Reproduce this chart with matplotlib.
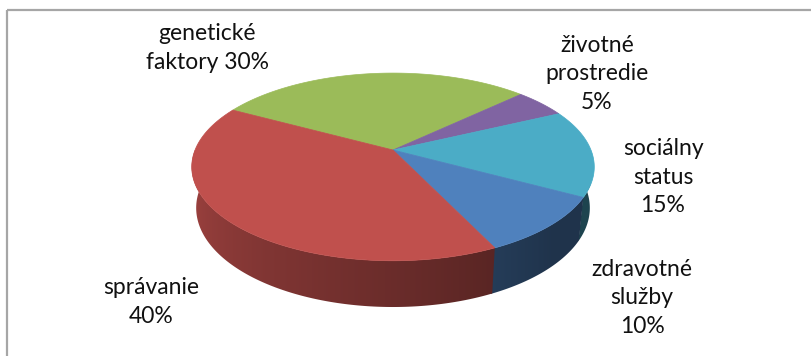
import numpy as np
import matplotlib
matplotlib.use("Agg")
from matplotlib import pyplot as plt
from matplotlib.patches import Polygon, Rectangle

labels = ["genetické\nfaktory 30%", "životné\nprostredie\n5%", "sociálny\nstatus\n15%",
          "zdravotné\nslužby\n10%", "správanie\n40%"]
values = [30, 5, 15, 10, 40]
colors = ["#9BBB59", "#8064A2", "#4BACC6", "#4F81BD", "#C0504D"]
label_pos = [(207, 48), (597, 74), (663, 177), (642, 298), (151, 302)]

START = 151.5  # degrees, slices go clockwise
CX, CY = 393, 150
ALPHA = np.radians(27.3)
D, F, H = 4.93, 976.0, 0.235


def project(phi, z, r=1.0):
    x = r * np.cos(phi)
    yw = r * np.sin(phi)
    s, c = np.sin(ALPHA), np.cos(ALPHA)
    yc = yw * s + z * c
    zc = D + yw * c - z * s
    return CX + F * x / zc, CY - F * yc / zc


def factor(phi):
    t = np.degrees(phi) % 360 - 180
    return np.maximum(0.40, 0.87 - 0.0035 * t)


fig = plt.figure(figsize=(8.11, 3.56), dpi=100)
ax = fig.add_axes([0, 0, 1, 1])

ax.add_patch(Rectangle((6.5, 10), 900, 400, fill=False, edgecolor="#A6A6A6", lw=1.6))

fracs = np.array(values) / sum(values) * 360
bounds = START - np.concatenate([[0], np.cumsum(fracs)])

# x -> angle on the front rim, used for the side gradient
front = np.radians(np.linspace(180, 360, 721))
front_x, _ = project(front, 0)

# sides (front half only)
for i, col in enumerate(colors):
    a_lo, a_hi = bounds[i + 1] % 360, bounds[i] % 360
    if a_hi <= a_lo:
        a_hi += 360
    a_lo -= 0.4  # small overlap so no seam shows between sides
    lo, hi = max(a_lo, 180), min(a_hi, 360)
    if lo >= hi:
        lo, hi = max(a_lo - 360, 180), min(a_hi - 360, 360)
        if lo >= hi:
            continue
    angs = np.radians(np.linspace(lo, hi, 150))
    tx, ty = project(angs, 0)
    bx, by = project(angs, -H)
    pts = np.column_stack([np.concatenate([tx, bx[::-1]]), np.concatenate([ty, by[::-1]])])
    poly = Polygon(pts, closed=True, facecolor="none", edgecolor="none")
    ax.add_patch(poly)
    x0, x1 = pts[:, 0].min() - 2, pts[:, 0].max() + 2
    y0, y1 = pts[:, 1].min() - 2, pts[:, 1].max() + 2
    xs = np.linspace(x0, x1, 400)
    phis = np.interp(xs, front_x, front)
    k = factor(phis)
    rgb = np.array(matplotlib.colors.to_rgb(col))
    img = np.tile((k[:, None] * rgb)[None, :, :], (2, 1, 1))
    im = ax.imshow(img, extent=(x0, x1, y1, y0), aspect="auto", interpolation="bilinear",
                   zorder=1 + 0.01 * i)
    im.set_clip_path(poly)

ax.set_xlim(0, 811)
ax.set_ylim(356, 0)
ax.axis("off")

# top faces
for i, col in enumerate(colors):
    angs = np.radians(np.linspace(bounds[i], bounds[i + 1], 120))
    tx, ty = project(angs, 0)
    pts = [(CX, CY)] + list(zip(tx, ty))
    ax.add_patch(Polygon(pts, closed=True, facecolor=col, edgecolor=col, lw=0.5, zorder=2))

for lab, (x, y) in zip(labels, label_pos):
    ax.text(x, y, lab, ha="center", va="center", fontsize=16.5, family="Lato",
            color="#111111", linespacing=1.45, zorder=3)

fig.savefig("out.png", dpi=100)
